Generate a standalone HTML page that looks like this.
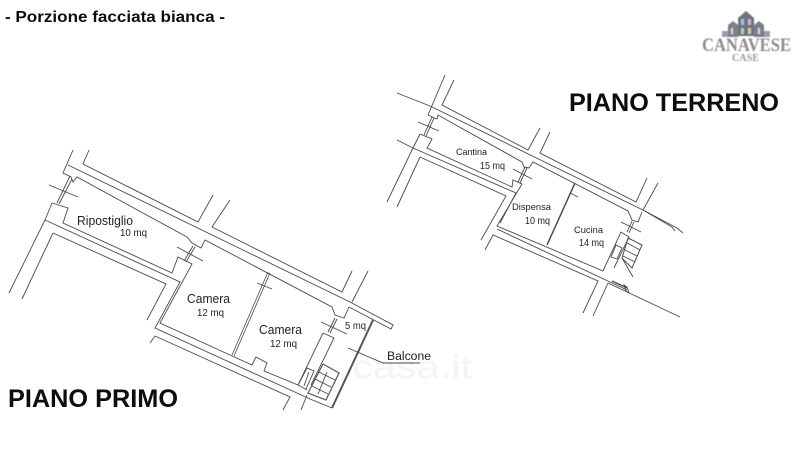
<!DOCTYPE html>
<html><head><meta charset="utf-8"><style>
html,body{margin:0;padding:0;background:#fff;width:800px;height:458px;overflow:hidden}
svg{display:block}
text{font-family:"Liberation Sans",sans-serif;fill:#222}
</style></head><body>
<svg width="800" height="458" viewBox="0 0 800 458" xmlns="http://www.w3.org/2000/svg">
<defs>
<filter id="b" x="-5%" y="-5%" width="110%" height="110%"><feGaussianBlur stdDeviation="0.35"/></filter>
<filter id="b2" x="-10%" y="-10%" width="120%" height="120%"><feGaussianBlur stdDeviation="0.6"/></filter>
</defs>
<rect width="800" height="458" fill="#fff"/>
<text x="352" y="378" font-size="32" style="fill:#f3f3f3" filter="url(#b2)" textLength="120" lengthAdjust="spacingAndGlyphs">casa.it</text>

<g filter="url(#b)" fill="none" stroke="#4a4a4a" stroke-width="0.9">
<!-- PIANO PRIMO -->
<path d="M73 150L63 173L71 177L73 182L77 177L187 237L192 243L201 248L205 240L332 307L335 315L344 318L349 307"/>
<path d="M89 150L83 164L198 222L213 195"/>
<path d="M68 165L350 302L393 325L391 329L349 307"/>
<path d="M230 200L212 227L342 292L352 271"/>
<path d="M368 271L352 302"/>
<path d="M70 176L57 203M72 179L59 204"/>
<path d="M49 185L78 197"/>
<path d="M52 203L68 208L63 223L172 273L178 257L192 264L160 323L230 355L252 365L256 357L267 363L264 371L298 385"/>
<path d="M52 203L45 220L9 293"/>
<path d="M45 220L180 282L155 328L310 399L332 408"/>
<path d="M53 233L22 299"/>
<path d="M53 233L166 284L147 320"/>
<path d="M150 343L155 336L290 397L283 410"/>
<path d="M193 246L184 261M195 247L186 262"/>
<path d="M177 247L203 261"/>
<path d="M307 395L301 410"/>
<path d="M268 272L232 355M270 273L234 356" stroke-width="0.8"/>
<path d="M257 283L272 289"/>
<path d="M335 318L328 332M337 319L330 333"/>
<path d="M321 322L347 334"/>
<path d="M323 333L334 338L311 385"/>
<path d="M323 333L298 385L307 390"/>
<path d="M298 385L307 368L314 371L306 389"/>
<path d="M309 372L304 386"/>
<path d="M323 364L339 373L326 400L308 393L323 364" stroke="#555" stroke-width="1.2"/>
<path d="M319 372L335 380M315 379L331 387M312 386L328 394"/>
<path d="M327 372L318 394"/>
<path d="M373 320L332 408" stroke="#555" stroke-width="2"/>
<path d="M348 348L383 363L420 363"/>

<!-- PIANO TERRENO -->
<path d="M445 75L428 115"/>
<path d="M454 80L442 105L528 150L540 128"/>
<path d="M397 93L430 106L643 210L677 228L683 233"/>
<path d="M550 132L540 153L636 202L647 178"/>
<path d="M658 183L643 210L672 227L675 231"/>
<path d="M428 115L437 119L438 115L522 162L524 167L529 168L533 162L628 211L632 220L638 222L642 212"/>
<path d="M432 117L424 135M434 118L426 136"/>
<path d="M418 122L439 131"/>
<path d="M420 134L432 139L427 148L512 187L513 180L522 184L497 226L603 271L621 232L629 237L614 268"/>
<path d="M420 134L413 148L387 202"/>
<path d="M397 140L413 148L516 193L500 223"/>
<path d="M420 157L397 207"/>
<path d="M420 157L506 196L481 240"/>
<path d="M525 167L518 182M527 168L520 183"/>
<path d="M513 169L532 179"/>
<path d="M497 229L627 290"/>
<path d="M485 250L493 235L598 281L583 313"/>
<path d="M608 283L593 316"/>
<path d="M608 283L680 317"/>
<path d="M612 281L627 288" stroke-width="1.4"/>
<path d="M575 183L547 245" stroke-width="1.5"/>
<path d="M570 193L578 197"/>
<path d="M632 221L627 232M634 222L629 233"/>
<path d="M621 222L641 232"/>
<path d="M611 257L616 245L622 248L617 259Z"/>
<path d="M628 238L642 245L632 268L622 258L628 238" stroke-width="1"/>
<path d="M627 243L640 250M625 250L637 256M623 256L635 262"/>
<path d="M622 258L633 277"/>
<path d="M624 285L627 287L629 293L626 291Z"/>
</g>

<!-- labels -->
<g filter="url(#b)">
<text x="5" y="22" font-size="16" font-weight="bold" style="fill:#111" textLength="220" lengthAdjust="spacingAndGlyphs">- Porzione facciata bianca -</text>
<text x="569" y="111" font-size="25" font-weight="bold" style="fill:#111" textLength="210" lengthAdjust="spacingAndGlyphs">PIANO TERRENO</text>
<text x="8" y="407" font-size="25" font-weight="bold" style="fill:#111" textLength="170" lengthAdjust="spacingAndGlyphs">PIANO PRIMO</text>
<text x="77" y="225" font-size="12.5" textLength="56" lengthAdjust="spacingAndGlyphs">Ripostiglio</text>
<text x="120" y="236" font-size="10.5" textLength="27" lengthAdjust="spacingAndGlyphs">10 mq</text>
<text x="187" y="303" font-size="13" textLength="43" lengthAdjust="spacingAndGlyphs">Camera</text>
<text x="197" y="316" font-size="10.5" textLength="27" lengthAdjust="spacingAndGlyphs">12 mq</text>
<text x="259" y="334" font-size="13" textLength="43" lengthAdjust="spacingAndGlyphs">Camera</text>
<text x="270" y="347" font-size="10.5" textLength="27" lengthAdjust="spacingAndGlyphs">12 mq</text>
<text x="345" y="329" font-size="10" textLength="21" lengthAdjust="spacingAndGlyphs">5 mq</text>
<text x="387" y="360" font-size="11.5" textLength="44" lengthAdjust="spacingAndGlyphs">Balcone</text>
<text x="456" y="155" font-size="9.5" textLength="31" lengthAdjust="spacingAndGlyphs">Cantina</text>
<text x="480" y="169" font-size="10.5" textLength="25" lengthAdjust="spacingAndGlyphs">15 mq</text>
<text x="512" y="210" font-size="9.5" textLength="39" lengthAdjust="spacingAndGlyphs">Dispensa</text>
<text x="525" y="224" font-size="10.5" textLength="25" lengthAdjust="spacingAndGlyphs">10 mq</text>
<text x="574" y="233" font-size="9.5" textLength="29" lengthAdjust="spacingAndGlyphs">Cucina</text>
<text x="579" y="246" font-size="10.5" textLength="25" lengthAdjust="spacingAndGlyphs">14 mq</text>
</g>

<!-- logo -->
<g filter="url(#b2)">
<path d="M738 36V18L746 11L754 18V36Z" fill="#6d7280"/>
<path d="M728 37V25L733 21L738 25V37Z" fill="#7c808a"/>
<path d="M754 37V25L759 21L764 25V37Z" fill="#7c808a"/>
<path d="M722 37V31h6v6ZM764 37V31h6v6Z" fill="#9a9da5"/>
<rect x="741" y="19" width="3" height="6" fill="#a9c1d6"/>
<rect x="748" y="19" width="3" height="6" fill="#c9b4cf"/>
<rect x="741" y="28" width="3" height="6" fill="#a8d0c4"/>
<rect x="748" y="28" width="3" height="6" fill="#d8c8a8"/>
<rect x="731" y="28" width="2" height="6" fill="#ddd"/>
<rect x="758" y="28" width="2" height="6" fill="#ddd"/>
<text x="702" y="51" font-size="19" font-weight="bold" style="font-family:'Liberation Serif',serif;fill:#8a8a8a" textLength="89" lengthAdjust="spacingAndGlyphs">CANAVESE</text>
<text x="732" y="61" font-size="11" font-weight="bold" style="font-family:'Liberation Serif',serif;fill:#999" textLength="27" lengthAdjust="spacingAndGlyphs">CASE</text>
</g>
</svg>
</body></html>
